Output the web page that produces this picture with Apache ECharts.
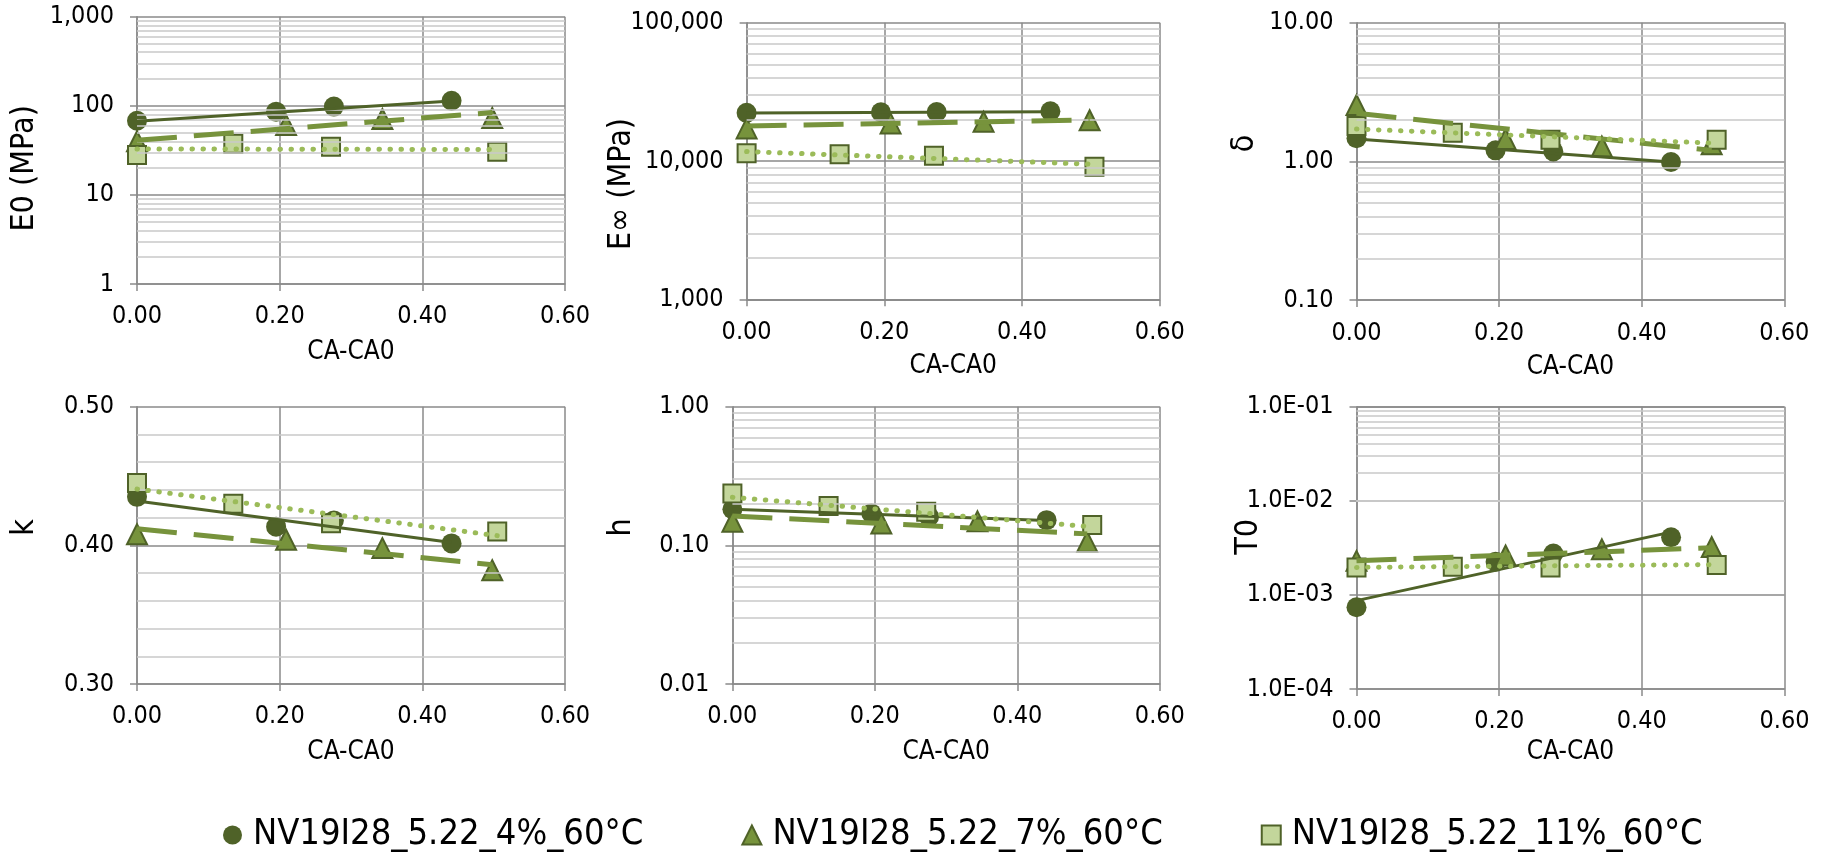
<!DOCTYPE html>
<html><head><meta charset="utf-8">
<script src="https://cdn.jsdelivr.net/npm/echarts@6/dist/echarts.min.js"></script>
<style>html,body{margin:0;padding:0;background:#fff}#c{width:1821px;height:854px}</style>
</head><body><div id="c"></div>
<script>
// ---------- data ----------
const seriesNames = ['NV19I28_5.22_4%_60°C', 'NV19I28_5.22_7%_60°C', 'NV19I28_5.22_11%_60°C'];
const xCircle = [0, 0.195, 0.276, 0.441];
const xTriangle = [0, 0.209, 0.344, 0.498];
const xSquare = [0, 0.135, 0.272, 0.505];
const xTrendCircle = [0, 0.441];
const xTrendTriangle = [0, 0.498];
const xTrendSquare = [0, 0.505];
const xTickLabels = ['0.00', '0.20', '0.40', '0.60'];

// E0 (MPa)
const e0Circle = [68, 86, 98, 114];
const e0Triangle = [40, 61, 71, 73];
const e0Square = [28, 37.5, 34.8, 30.5];
const e0TrendCircle = [67, 113];
const e0TrendTriangle = [41, 84];
const e0TrendSquare = [32.8, 32.3];
const e0Ticks = ['1', '10', '100', '1,000'];

// E∞ (MPa)
const einfCircle = [22300, 22500, 22600, 22900];
const einfTriangle = [17200, 18700, 19200, 19700];
const einfSquare = [11400, 11200, 10900, 9100];
const einfTrendCircle = [22200, 22700];
const einfTrendTriangle = [17900, 19800];
const einfTrendSquare = [11700, 9460];
const einfTicks = ['1,000', '10,000', '100,000'];

// δ
const deltaCircle = [1.47, 1.20, 1.18, 0.99];
const deltaTriangle = [2.55, 1.45, 1.28, 1.33];
const deltaSquare = [1.80, 1.61, 1.43, 1.43];
const deltaTrendCircle = [1.45, 0.99];
const deltaTrendTriangle = [2.22, 1.20];
const deltaTrendSquare = [1.71, 1.35];
const deltaTicks = ['0.10', '1.00', '10.00'];

// k
const kCircle = [0.435, 0.4135, 0.418, 0.4014];
const kTriangle = [0.408, 0.404, 0.398, 0.382];
const kSquare = [0.445, 0.430, 0.416, 0.410];
const kTrendCircle = [0.432, 0.402];
const kTrendTriangle = [0.412, 0.386];
const kTrendSquare = [0.4406, 0.407];
const kTicks = ['0.30', '0.40', '0.50'];
const kMinor = [0.32, 0.34, 0.36, 0.38, 0.42, 0.44, 0.46, 0.48];

// h
const hCircle = [0.182, 0.170, 0.161, 0.152];
const hTriangle = [0.148, 0.144, 0.149, 0.106];
const hSquare = [0.237, 0.192, 0.175, 0.140];
const hTrendCircle = [0.182, 0.151];
const hTrendTriangle = [0.163, 0.121];
const hTrendSquare = [0.222, 0.136];
const hTicks = ['0.01', '0.10', '1.00'];

// T0
const t0Circle = [7.4e-4, 2.25e-3, 2.75e-3, 4.1e-3];
const t0Triangle = [2.3e-3, 2.62e-3, 3.05e-3, 3.22e-3];
const t0Square = [1.95e-3, 1.99e-3, 1.96e-3, 2.08e-3];
const t0TrendCircle = [8.7e-4, 4.65e-3];
const t0TrendTriangle = [2.31e-3, 3.17e-3];
const t0TrendSquare = [1.96e-3, 2.1e-3];
const t0Ticks = ['1.0E-04', '1.0E-03', '1.0E-02', '1.0E-01'];

// ---------- styling ----------
const FONT = '"Liberation Sans Narrow", "DejaVu Sans Condensed", "Liberation Sans", sans-serif';
const MAJOR = '#8a8a8a';
const MINOR = '#c8c8c8';
const C_DARK = '#4f6228';
const C_MID = '#77933c';
const C_LIGHT = '#c3d69b';
const C_DOT = '#9bbb59';

function logMinors(min, max) {
  const out = [];
  const a = Math.round(Math.log10(min)), b = Math.round(Math.log10(max));
  for (let p = a; p < b; p++) for (let m = 2; m <= 9; m++) out.push(+(m * Math.pow(10, p)).toPrecision(6));
  return out;
}
function tickFormatter(type, min, labels, interval) {
  return function (v) {
    let idx;
    if (type === 'log') idx = Math.round(Math.log10(v) - Math.log10(min));
    else idx = Math.round((v - min) / interval);
    return labels[idx] !== undefined ? labels[idx] : '';
  };
}
const pairs = (xs, ys) => xs.map((x, i) => [x, ys[i]]);

const panels = [
  { grid: { left: 137, top: 16.7, width: 428, height: 267.3 }, yName: 'E0 (MPa)', type: 'log', min: 1, max: 1000, labels: e0Ticks,
    yNameGap: 96, namePad: [0, 36, 0, 0], xLabelMargin: 20, xNameGap: 55,
    c: e0Circle, t: e0Triangle, s: e0Square, tc: e0TrendCircle, tt: e0TrendTriangle, ts: e0TrendSquare },
  { grid: { left: 746.6, top: 22.7, width: 413.3, height: 276.6 }, yName: 'E∞ (MPa)', type: 'log', min: 1000, max: 100000, labels: einfTicks,
    yNameGap: 109, namePad: [0, 46, 0, 0], xLabelMargin: 21, xNameGap: 54,
    c: einfCircle, t: einfTriangle, s: einfSquare, tc: einfTrendCircle, tt: einfTrendTriangle, ts: einfTrendSquare },
  { grid: { left: 1356.5, top: 22.7, width: 427.9, height: 277.3 }, yName: 'δ', type: 'log', min: 0.1, max: 10, labels: deltaTicks,
    yNameGap: 96, namePad: [0, 0, 0, 36], xLabelMargin: 21, xNameGap: 54,
    c: deltaCircle, t: deltaTriangle, s: deltaSquare, tc: deltaTrendCircle, tt: deltaTrendTriangle, ts: deltaTrendSquare },
  { grid: { left: 137, top: 406.7, width: 428, height: 277.3 }, yName: 'k', type: 'value', min: 0.3, max: 0.5, interval: 0.1, labels: kTicks, minors: kMinor,
    yNameGap: 96, namePad: [0, 0, 0, 36], xLabelMargin: 20, xNameGap: 55,
    c: kCircle, t: kTriangle, s: kSquare, tc: kTrendCircle, tt: kTrendTriangle, ts: kTrendSquare },
  { grid: { left: 732.4, top: 406.7, width: 427.5, height: 277.3 }, yName: 'h', type: 'log', min: 0.01, max: 1, labels: hTicks,
    yNameGap: 95, namePad: [0, 0, 0, 36], xLabelMargin: 20, xNameGap: 55,
    c: hCircle, t: hTriangle, s: hSquare, tc: hTrendCircle, tt: hTrendTriangle, ts: hTrendSquare },
  { grid: { left: 1356.5, top: 406.7, width: 428, height: 282.3 }, yName: 'T0', type: 'log', min: 0.0001, max: 0.1, labels: t0Ticks,
    yNameGap: 92, namePad: [0, 0, 0, 22], xLabelMargin: 20, xNameGap: 50,
    c: t0Circle, t: t0Triangle, s: t0Square, tc: t0TrendCircle, tt: t0TrendTriangle, ts: t0TrendSquare }
];

const option = {
  animation: false,
  backgroundColor: '#fff',
  textStyle: { fontFamily: FONT },
  grid: [], xAxis: [], yAxis: [], series: [],
  legend: {
    data: seriesNames,
    left: 218, top: 812,
    itemWidth: 19, itemHeight: 19, itemGap: 98,
    textStyle: { fontSize: 36, color: '#000', fontFamily: FONT, padding: [0, 0, 0, 6] }
  }
};

panels.forEach((p, i) => {
  option.grid.push(Object.assign({ containLabel: false }, p.grid));
  option.xAxis.push({
    type: 'value', gridIndex: i, min: 0, max: 0.6, interval: 0.2,
    name: 'CA-CA0', nameLocation: 'middle', nameGap: p.xNameGap, nameMoveOverlap: false,
    nameTextStyle: { fontSize: 26, color: '#000', fontFamily: FONT },
    axisLine: { show: true, onZero: false, lineStyle: { color: MAJOR, width: 1.5 } },
    axisTick: { show: true, length: 7, lineStyle: { color: MAJOR, width: 1.5 } },
    axisLabel: { fontSize: 25, color: '#000', margin: p.xLabelMargin, fontFamily: FONT,
      formatter: tickFormatter('value', 0, xTickLabels, 0.2) },
    splitLine: { show: true, lineStyle: { color: MAJOR, width: 1.5 } }
  });
  const y = {
    type: p.type, gridIndex: i, min: p.min, max: p.max,
    name: p.yName, nameLocation: 'middle', nameGap: p.yNameGap, nameMoveOverlap: false,
    nameTextStyle: { fontSize: 32, color: '#000', fontFamily: FONT, padding: p.namePad },
    axisLine: { show: true, onZero: false, lineStyle: { color: MAJOR, width: 1.5 } },
    axisTick: { show: true, length: 7, lineStyle: { color: MAJOR, width: 1.5 } },
    axisLabel: { fontSize: 25, color: '#000', margin: 23, fontFamily: FONT,
      formatter: tickFormatter(p.type, p.min, p.labels, p.interval) },
    splitLine: { show: true, lineStyle: { color: MAJOR, width: 1.5 } }
  };
  if (p.type === 'log') y.logBase = 10; else y.interval = p.interval;
  option.yAxis.push(y);

  const minors = p.minors || logMinors(p.min, p.max);
  option.series.push({
    type: 'line', xAxisIndex: i, yAxisIndex: i, data: [], silent: true, z: 1,
    markLine: {
      silent: true, symbol: 'none', animation: false, label: { show: false },
      lineStyle: { color: MINOR, width: 1.5, type: 'solid' },
      emphasis: { disabled: true },
      data: minors.map(v => ({ yAxis: v }))
    }
  });

  const mk = (name, xs, ys, symbol, size, color, border) => ({
    name, type: 'scatter', xAxisIndex: i, yAxisIndex: i, data: pairs(xs, ys),
    symbol, symbolSize: size, z: 3,
    itemStyle: { color, borderColor: border, borderWidth: border ? 2 : 0, opacity: 1 }
  });
  option.series.push(mk(seriesNames[0], xCircle, p.c, 'circle', 20, C_DARK, null));
  option.series.push(mk(seriesNames[1], xTriangle, p.t, 'triangle', 20, C_MID, C_DARK));
  option.series.push(mk(seriesNames[2], xSquare, p.s, 'rect', 18, C_LIGHT, C_DARK));

  const tr = (name, xs, ys, color, width, type, cap) => ({
    name, type: 'line', xAxisIndex: i, yAxisIndex: i, data: pairs(xs, ys),
    symbol: 'none', silent: true, z: 5,
    lineStyle: { color, width, type, cap: cap || 'butt' }
  });
  option.series.push(tr('trend-4%', xTrendCircle, p.tc, C_DARK, 3, 'solid'));
  option.series.push(tr('trend-7%', xTrendTriangle, p.tt, C_MID, 5, [40, 17]));
  option.series.push(tr('trend-11%', xTrendSquare, p.ts, C_DOT, 5, [0.5, 10.5], 'round'));
});

const chart = echarts.init(document.getElementById('c'), null, { renderer: 'canvas' });
chart.setOption(option);
</script>
</body></html>
